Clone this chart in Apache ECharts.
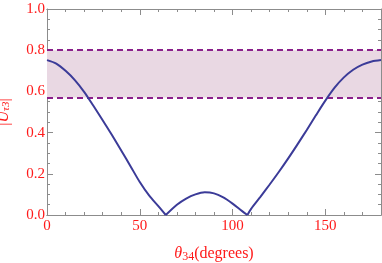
<!DOCTYPE html>
<html><head><meta charset="utf-8">
<script src="https://cdn.jsdelivr.net/npm/echarts@6/dist/echarts.min.js"></script>
<style>html,body{margin:0;padding:0;background:#fff}#c{width:382px;height:263px}</style>
</head><body><div id="c"></div>
<script>
var theta = [0,5,10,15,20,25,30,35,40,45,50,55,60,64,70,75,80,85,90,95,100,105,108,110,115,120,125,130,135,140,145,150,155,160,165,170,175,180];
var absU  = [0.752,0.735,0.70,0.655,0.598,0.530,0.460,0.388,0.313,0.237,0.160,0.095,0.043,0.0,0.05,0.08,0.10,0.11,0.105,0.085,0.055,0.02,0.0,0.03,0.088,0.148,0.21,0.275,0.343,0.413,0.485,0.555,0.618,0.668,0.705,0.73,0.745,0.752];
var cusps = [64,108];
var bandLow = 0.57, bandHigh = 0.80;
var xTicks = [0,50,100,150];
var yTickLabels = ['0.0','0.2','0.4','0.6','0.8','1.0'];

var red = '#ff1a1a', frame = '#8c8c8c', serif = '"Liberation Serif","DejaVu Serif",serif';
var chart = echarts.init(document.getElementById('c'));
var pts = theta.map(function(t,i){return [t, absU[i]];});
// split into smooth pieces at the cusps (zeros) so they stay sharp
var pieces = [], cur = [];
pts.forEach(function(p){ cur.push(p); if (cusps.indexOf(p[0])>=0){ pieces.push(cur); cur=[p]; } });
pieces.push(cur);
function xa(pos, interval, len, labels, name){
  return {type:'value', position:pos, min:0, max:180, interval:interval,
    axisLine:{show:true, onZero:false, lineStyle:{color:frame,width:1}},
    axisTick:{show:true, inside:true, length:len, lineStyle:{color:frame}},
    axisLabel:{show:labels, color:red, fontFamily:serif, fontSize:15, margin:4,
      formatter:function(v){return xTicks.indexOf(v)>=0 ? String(v) : '';}},
    splitLine:{show:false},
    name: name ? '{i|θ}{s|34}{n|(degrees)}' : '', nameLocation:'middle', nameGap:30,
    nameTextStyle:{rich:{i:{fontStyle:'italic',color:red,fontFamily:serif,fontSize:16},
      s:{color:red,fontFamily:serif,fontSize:12,padding:[6,0,0,0]},
      n:{color:red,fontFamily:serif,fontSize:16}}}};
}
function ya(pos, labels, name){
  return {type:'value', position:pos, min:0, max:1, interval:0.2,
    axisLine:{show:true, onZero:false, lineStyle:{color:frame,width:1}},
    axisTick:{show:true, inside:true, length:6, lineStyle:{color:frame}},
    minorTick:{show:true, splitNumber:4, length:3, lineStyle:{color:frame}},
    axisLabel:{show:labels, color:red, fontFamily:serif, fontSize:15, margin:2,
      formatter:function(v){return yTickLabels[Math.round(v*5)];}},
    splitLine:{show:false},
    name: name ? '{a||}{i|U}{s|τ3}{a||}' : '', nameLocation:'middle', nameGap:35, nameRotate:90,
    nameTextStyle:{rich:{a:{color:red,fontFamily:serif,fontSize:16},
      i:{fontStyle:'italic',color:red,fontFamily:serif,fontSize:16},
      s:{color:red,fontFamily:serif,fontSize:11,fontStyle:'italic',padding:[6,0,0,0]}}}};
}
var series = pieces.map(function(d, k){
  var s = {type:'line', data:d, xAxisIndex:0, yAxisIndex:0, showSymbol:false, smooth:0.3,
    lineStyle:{color:'#3b3b98', width:2}, z:5};
  if (k===0){
    s.markArea = {silent:true, itemStyle:{color:'#e9d8e3'}, data:[[{yAxis:bandLow},{yAxis:bandHigh}]]};
    s.markLine = {silent:true, symbol:['none','none'], label:{show:false},
      lineStyle:{color:'#8a1f8a', type:[6,4], width:2},
      data:[{yAxis:bandLow},{yAxis:bandHigh}]};
  }
  return s;
});
chart.setOption({
  animation:false,
  grid:{left:47, right:1, top:9, bottom:48, containLabel:false, outerBoundsMode:'none'},
  xAxis:[xa('bottom',50,6,true,true), xa('bottom',10,3,false,false), xa('top',50,6,false,false), xa('top',10,3,false,false)],
  yAxis:[ya('left',true,true), ya('right',false,false)],
  series:series
});
</script></body></html>
